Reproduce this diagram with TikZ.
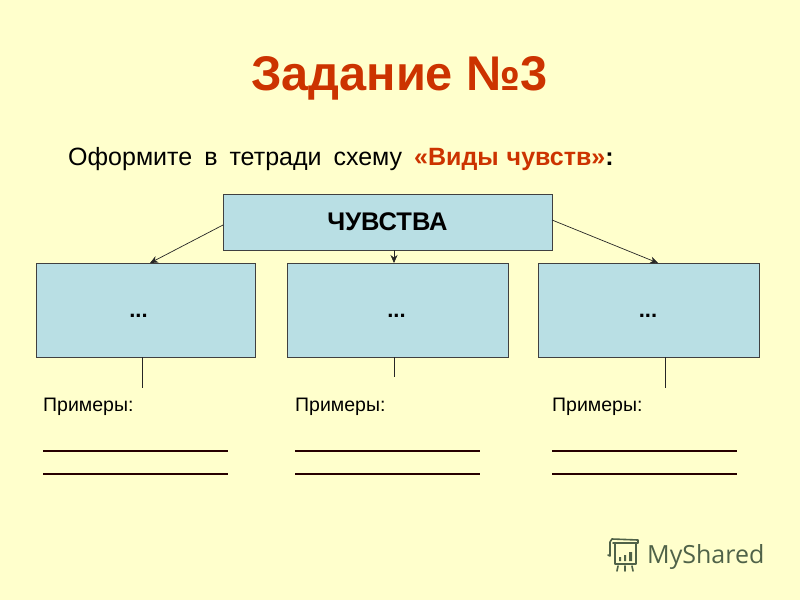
\documentclass[tikz,border=0pt]{standalone}
\usepackage{fontspec}
\usetikzlibrary{arrows.meta}
\setmainfont{Liberation Sans}
\newfontfamily\logofont{Open Sans}
\definecolor{paper}{HTML}{FFFFCC}
\definecolor{boxblue}{HTML}{B9DFE4}
\definecolor{titlered}{HTML}{CC3300}
\definecolor{logogreen}{HTML}{4F6248}
\tikzset{
  every box/.style={draw=black!75, line width=1pt, fill=boxblue, inner sep=0pt, outer sep=0pt},
  link/.style={line width=0.7pt, black!85},
  gap line/.style={line width=1.5pt, black!85!red},
  logo line/.style={draw=logogreen, line width=1.6pt, line cap=round, line join=round}
}
\begin{document}
\begin{tikzpicture}[x=1pt, y=-1pt, >={Stealth[length=8pt, width=7pt]}]
\fill [paper] (0,0) rectangle (800,600);
\useasboundingbox (0,0) rectangle (800,600);
\node [anchor=base, text=titlered, font=\fontsize{48.7}{48.7}\selectfont\bfseries] (title) at (399.5,90) {Задание №3};
\node [anchor=base west, inner sep=0pt, font=\fontsize{25}{25}\selectfont] (task) at (68,165.5)
  {\spaceskip=12pt Оформите в тетради схему {\spaceskip=8pt\bfseries\textcolor{titlered}{«Виды чувств»}:}};
\node [every box, minimum width=329pt, minimum height=56pt, font=\fontsize{25.5}{25.5}\selectfont\bfseries] (feel) at (387.5,222) {ЧУВСТВА};
\foreach \c/\w/\d [count=\i] in {145.5/219/138.5, 397.5/221/396.5, 649/221/648}
{
  \node [every box, minimum width=\w pt, minimum height=94pt] (kind-\i) at (\c,310) {};
  \node [font=\fontsize{22}{22}\selectfont\bfseries] (dots-\i) at (\d,316) {...};
}
\foreach \x/\p/\s [count=\i] in {150/142/388, 394/394/377, 658/665/388}
{
  \coordinate (in-\i) at (\x,263);
  \coordinate (top-\i) at (\p,357);
  \coordinate (out-\i) at (\p,\s);
  \draw [link] (top-\i) -- (out-\i);
}
\draw [link, ->] (feel.west) ++(0,3) -- (in-1);
\draw [link, ->] (feel.south -| in-2) -- (in-2);
\draw [link, ->] (feel.east) ++(0,-2) -- (in-3);
\foreach \x [count=\i] in {43,295,552}
{
  \node [anchor=base west, inner sep=0pt, font=\fontsize{19.5}{19.5}\selectfont] (ex-\i) at (\x,411) {Примеры:};
  \coordinate (lineA-\i) at (\x,451);
  \coordinate (lineB-\i) at (\x,474);
  \draw [gap line, line width=1.2pt] (lineA-\i) -- ++(185,0);
  \draw [gap line, line width=1.7pt] (lineB-\i) -- ++(185,0);
}
% logo
\draw [logo line] (613,543) -- (638,543) -- (638,540) -- (612,539) -- (610,542) -- (610,556) -- (608,555);
\draw [logo line] (615,544) -- (615,564) -- (636,564) -- (636,544);
\draw [logo line] (618,566) -- (617,571) (625,566) -- (625,571) (632,566) -- (633,571);
\fill [logogreen] (619,557) rectangle (621,561) (624,555) rectangle (626,561) (629,552) rectangle (632,561);
\node [anchor=base west, inner sep=0pt, text=logogreen, font=\logofont\fontsize{25}{25}\selectfont] (logo) at (647,563) {MyShared};
\end{tikzpicture}
\end{document}
